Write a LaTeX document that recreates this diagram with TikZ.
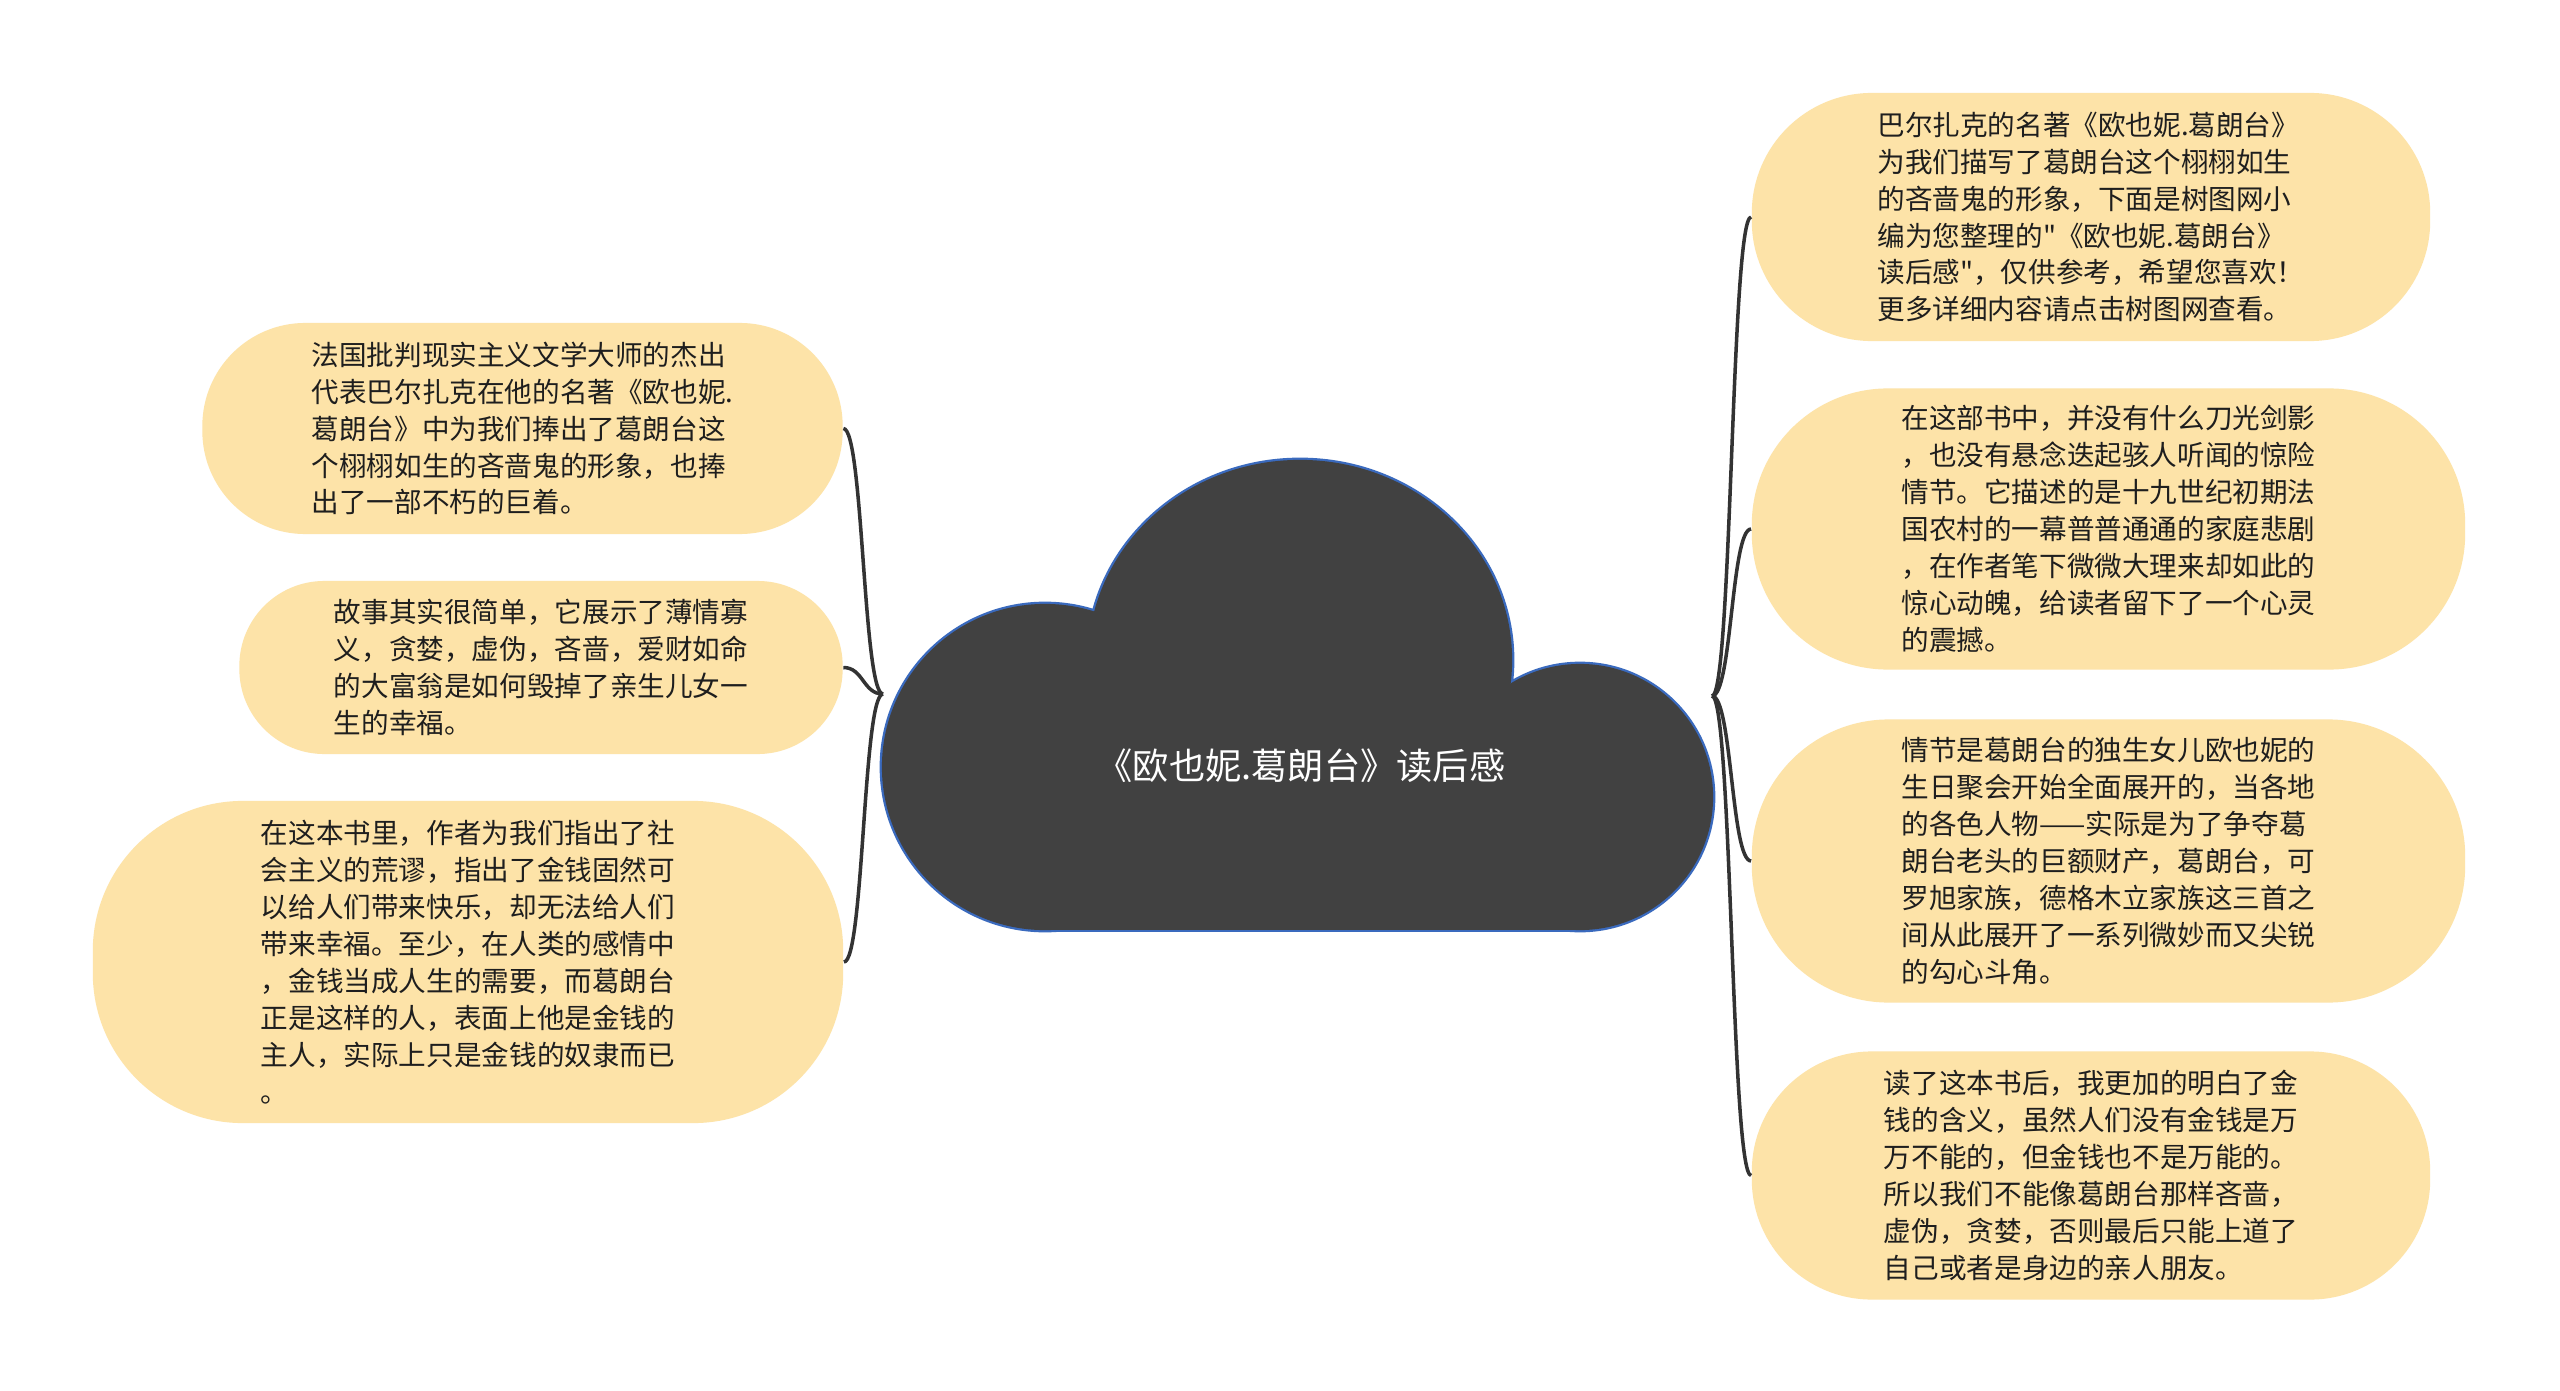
\documentclass[tikz,border=0pt]{standalone}
\usepackage{fontspec}
\setmainfont{Noto Sans CJK SC}[Ligatures=TeXOff]
\usetikzlibrary{calc}
\definecolor{CloudClr}{RGB}{65,65,65}
\definecolor{RimClr}{RGB}{58,106,190}
\definecolor{LeafClr}{RGB}{253,227,168}
\definecolor{LinkClr}{RGB}{51,51,51}
\definecolor{InkClr}{RGB}{30,30,30}

\begin{document}
\begin{tikzpicture}[x=0.01cm,y=-0.01cm,
  leaf/.style={fill=LeafClr,text=InkClr,align=left,inner sep=0pt,
    font=\fontsize{7.85pt}{10.5pt}\selectfont},
  link/.style={draw=LinkClr,line width=1pt}]
\fill[white] (0,0) rectangle (2560,1391);
\useasboundingbox (0,0) rectangle (2560,1391);

% cloud: rim first, then the fill over it
\begin{scope}[draw=RimClr,line width=1.3pt]
\draw (1045,767) circle[radius=1.63cm];
\draw (1300,660) ellipse[x radius=2.12cm,y radius=2cm];
\draw (1580,797) circle[radius=1.33cm];
\draw (1045,767) rectangle (1580,930);
\end{scope}
\begin{scope}[fill=CloudClr]
\fill (1045,767) circle[radius=1.63cm];
\fill (1300,660) ellipse[x radius=2.12cm,y radius=2cm];
\fill (1580,797) circle[radius=1.33cm];
\fill (1045,767) rectangle (1580,930);
\end{scope}

\node[text=white,font=\fontsize{10.3pt}{12pt}\selectfont] (Root) at (1301,766) {《欧也妮.葛朗台》读后感};

\coordinate (JL) at (883,694);
\coordinate (JR) at (1712,696);

% left leaves
\node[leaf,minimum width=6.4cm,minimum height=2.11cm,rounded corners=1.03cm] (L1) at (522.5,428.5)
  {法国批判现实主义文学大师的杰出\\代表巴尔扎克在他的名著《欧也妮.\\葛朗台》中为我们捧出了葛朗台这\\个栩栩如生的吝啬鬼的形象，也捧\\出了一部不朽的巨着。};
\node[leaf,minimum width=6.03cm,minimum height=1.73cm,rounded corners=0.85cm] (L2) at (541,667.5)
  {故事其实很简单，它展示了薄情寡\\义，贪婪，虚伪，吝啬，爱财如命\\的大富翁是如何毁掉了亲生儿女一\\生的幸福。};
\node[leaf,minimum width=7.5cm,minimum height=3.22cm,rounded corners=1.5cm] (L3) at (468,962)
  {在这本书里，作者为我们指出了社\\会主义的荒谬，指出了金钱固然可\\以给人们带来快乐，却无法给人们\\带来幸福。至少，在人类的感情中\\，金钱当成人生的需要，而葛朗台\\正是这样的人，表面上他是金钱的\\主人，实际上只是金钱的奴隶而已\\。};

% right leaves
\node[leaf,minimum width=6.78cm,minimum height=2.48cm,rounded corners=1.2cm] (R1) at (2091,217)
  {巴尔扎克的名著《欧也妮.葛朗台》\\为我们描写了葛朗台这个栩栩如生\\的吝啬鬼的形象，下面是树图网小\\编为您整理的"《欧也妮.葛朗台》\\读后感"，仅供参考，希望您喜欢！\\更多详细内容请点击树图网查看。};
\node[leaf,minimum width=7.13cm,minimum height=2.81cm,rounded corners=1.36cm] (R2) at (2108.5,529)
  {在这部书中，并没有什么刀光剑影\\，也没有悬念迭起骇人听闻的惊险\\情节。它描述的是十九世纪初期法\\国农村的一幕普普通通的家庭悲剧\\，在作者笔下微微大理来却如此的\\惊心动魄，给读者留下了一个心灵\\的震撼。};
\node[leaf,minimum width=7.13cm,minimum height=2.83cm,rounded corners=1.37cm] (R3) at (2108.5,861)
  {情节是葛朗台的独生女儿欧也妮的\\生日聚会开始全面展开的，当各地\\的各色人物——实际是为了争夺葛\\朗台老头的巨额财产，葛朗台，可\\罗旭家族，德格木立家族这三首之\\间从此展开了一系列微妙而又尖锐\\的勾心斗角。};
\node[leaf,minimum width=6.78cm,minimum height=2.48cm,rounded corners=1.2cm] (R4) at (2091,1175.5)
  {读了这本书后，我更加的明白了金\\钱的含义，虽然人们没有金钱是万\\万不能的，但金钱也不是万能的。\\所以我们不能像葛朗台那样吝啬，\\虚伪，贪婪，否则最后只能上道了\\自己或者是身边的亲人朋友。};

% links
\foreach \n in {L1,L2,L3}
  \draw[link] (JL) .. controls +(-20,0) and +(20,0) .. (\n.east);
\foreach \n in {R1,R2,R3,R4}
  \draw[link] (JR) .. controls +(20,0) and +(-20,0) .. (\n.west);

\end{tikzpicture}
\end{document}
